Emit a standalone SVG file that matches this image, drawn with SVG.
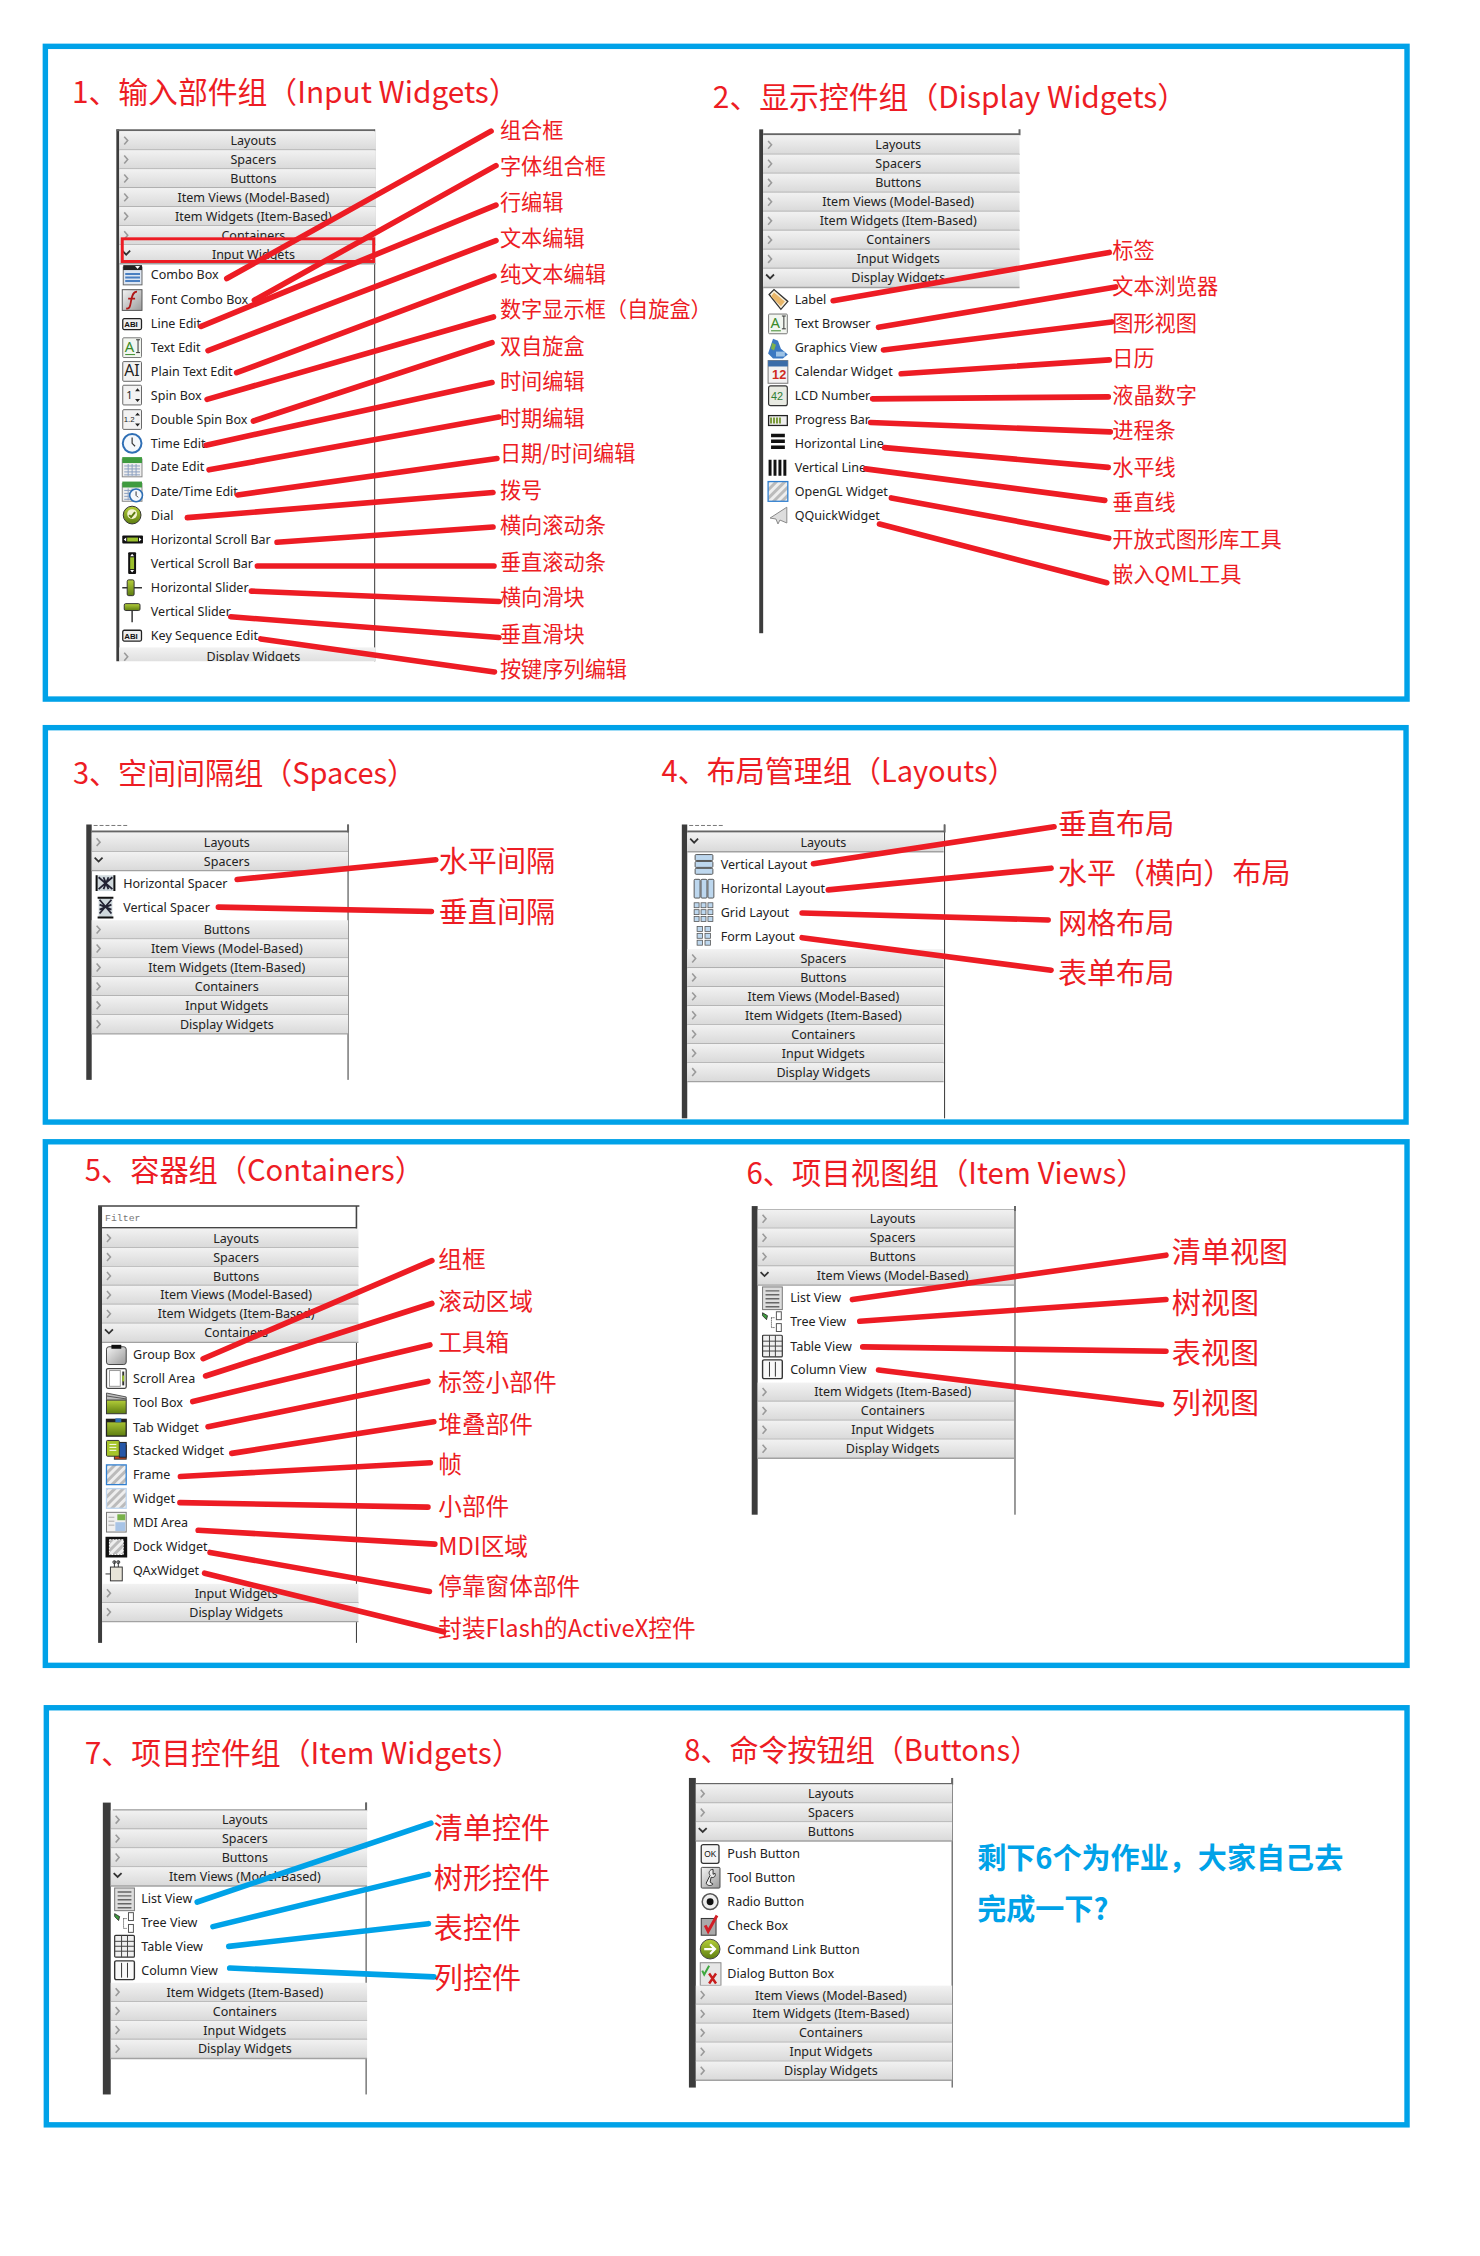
<svg xmlns="http://www.w3.org/2000/svg" width="1480" height="2256" viewBox="0 0 1480 2256">
<style>
text{font-family:"Noto Sans","Noto Sans CJK SC",sans-serif}
.f{fill:#fff;stroke:#00a2e8;stroke-width:5.500}
.t{font-family:"Noto Sans CJK SC",sans-serif;font-size:30px;fill:#ed1c24}
.l{font-family:"Noto Sans CJK SC",sans-serif;fill:#ed1c24;dominant-baseline:central}
.s{font-size:21.500px}.m{font-size:24px}.b{font-size:29.500px}
.h{font-size:12.700px;fill:#222;text-anchor:middle}
.i{font-size:12.700px;fill:#222}
.bar{fill:#3c3c3c}
.rl{stroke:#333;stroke-width:1;fill:none}
.top{stroke:#666;stroke-width:2;fill:none}
.c{fill:none;stroke-width:5.700;stroke-linecap:round}
.cr{stroke:#ed1c24}.cb{stroke:#00a2e8}
.n{font-family:"Liberation Sans",sans-serif}
</style>
<defs>
<linearGradient id="hg" x1="0" y1="0" x2="0" y2="1"><stop offset="0" stop-color="#f2f2f2"/><stop offset="1" stop-color="#d9d9d9"/></linearGradient>
<linearGradient id="gr" x1="0" y1="0" x2="1" y2="1"><stop offset="0" stop-color="#f4f4f4"/><stop offset="1" stop-color="#9a9a9a"/></linearGradient>
<linearGradient id="gg" x1="0" y1="0" x2="0" y2="1"><stop offset="0" stop-color="#b5cf3a"/><stop offset="1" stop-color="#5d7d10"/></linearGradient>
<pattern id="ha" width="6" height="6" patternUnits="userSpaceOnUse" patternTransform="rotate(45)"><rect width="6" height="6" fill="#eee"/><rect width="3" height="6" fill="#bbb"/></pattern>
<clipPath id="cp1"><rect x="-6" y="0" width="272" height="669.500"/></clipPath>
<g id="hb"><rect width="260" height="19.200" fill="url(#hg)"/><path d="M0 19.200H260" stroke="#a2a2a2" stroke-width="1.400"/><path d="M5 5.500l3.500 4-3.500 4" fill="none" stroke="#9a9a9a" stroke-width="1.600"/></g>
<g id="ho"><rect width="260" height="19.200" fill="url(#hg)"/><path d="M0 19.200H260" stroke="#a2a2a2" stroke-width="1.400"/><path d="M3 6l4 4 4-4" fill="none" stroke="#333" stroke-width="1.800"/></g>
<g id="i-combo"><rect x="2" y="3" width="19" height="18" fill="#dde6f2" stroke="#666"/><rect x="2" y="1" width="19" height="5" fill="#222"/><path d="M14 2h5l-2.500 3z" fill="#fff"/><path d="M4 10h15M4 13.500h15M4 17h15" stroke="#4a7fc1" stroke-width="2"/></g>
<g id="i-font"><rect x="1" y="1" width="20" height="21" fill="url(#gr)" stroke="#555"/><path d="M5 20c4 1 4-3 5-8s2-9 6-9M7 10h7" fill="none" stroke="#b01818" stroke-width="1.800"/></g>
<g id="i-line"><rect x="1.500" y="6" width="19" height="11" rx="1.500" fill="#eee" stroke="#222" stroke-width="1.300"/><text x="3" y="14.500" font-size="8" font-weight="700" fill="#111" class="n">ABI</text></g>
<g id="i-text"><rect x="1.500" y="1" width="19" height="20" rx="1" fill="#f2f6f0" stroke="#777"/><text x="3.500" y="15" font-size="15" fill="#3a8a2a" font-family="Liberation Serif">A</text><path d="M15 3h4M17 3v13M15 16h4" stroke="#333" fill="none"/><path d="M4 18h10" stroke="#3a8a2a"/></g>
<g id="i-plain"><rect x="1.500" y="1" width="19" height="20" rx="1" fill="#f2f2f2" stroke="#666"/><text x="3" y="16" font-size="16" fill="#222" font-family="Liberation Serif">AI</text></g>
<g id="i-spin"><rect x="1.500" y="1" width="19" height="20" rx="1" fill="#f2f2f2" stroke="#666"/><text x="5" y="15" font-size="11" fill="#222" font-family="Liberation Serif">1</text><path d="M14 7l2.500-3 2.500 3zM14 15l2.500 3 2.500-3z" fill="#222"/></g>
<g id="i-dspin"><rect x="1.500" y="1" width="19" height="20" rx="1" fill="#f2f2f2" stroke="#666"/><text x="2.500" y="14" font-size="8" fill="#222" class="n">1.2</text><path d="M14 7l2.500-3 2.500 3zM14 15l2.500 3 2.500-3z" fill="#222"/></g>
<g id="i-time"><circle cx="11" cy="11" r="9.500" fill="#f4f8fc" stroke="#2f6fb5" stroke-width="2"/><path d="M11 5v6l3 3" fill="none" stroke="#333" stroke-width="1.200"/></g>
<g id="i-date"><rect x="1" y="3" width="20" height="18" fill="#eee" stroke="#888"/><rect x="1" y="1" width="20" height="6" fill="#3f9b3f"/><path d="M3 10h16M3 13h16M3 16h16M3 19h16M7 8v12M11 8v12M15 8v12" stroke="#8ba0c0" stroke-width="1"/></g>
<g id="i-dt"><use href="#i-date"/><circle cx="15" cy="15" r="6.500" fill="#f4f8fc" stroke="#2f6fb5" stroke-width="1.600"/><path d="M15 11v4l2 2" fill="none" stroke="#333"/></g>
<g id="i-dial"><circle cx="11" cy="11" r="9" fill="url(#gg)" stroke="#333" stroke-width="1"/><circle cx="11" cy="10" r="5" fill="#f3f3d0"/><path d="M8 11l2 2 4-5" fill="none" stroke="#5d7d10" stroke-width="2"/></g>
<g id="i-hs"><rect x="1" y="7" width="21" height="8" rx="1" fill="#111"/><rect x="6" y="9" width="11" height="4" fill="#9bc02c"/><path d="M5 9v4l-2.500-2zM18 9v4l2.500-2z" fill="#fff"/></g>
<g id="i-vs"><rect x="7" y="0" width="8" height="22" rx="1" fill="#111"/><rect x="9" y="5" width="4" height="12" fill="#9bc02c"/><path d="M9 4h4l-2-2.500zM9 18h4l-2 2.500z" fill="#fff"/></g>
<g id="i-hsl"><path d="M1 11h20" stroke="#333" stroke-width="1.500"/><rect x="6" y="3" width="7" height="16" rx="1.500" fill="url(#gg)" stroke="#333"/></g>
<g id="i-vsl"><path d="M11 4v18" stroke="#333" stroke-width="1.500"/><rect x="3" y="3" width="16" height="7" rx="1.500" fill="url(#gg)" stroke="#333"/></g>
<g id="i-label"><path d="M2 6l5-5 14 12-7 8z" fill="#f8f0dc" stroke="#333" stroke-width="1.300"/><path d="M4 8l3-4 11 9-4 5z" fill="#e9b76a"/></g>
<g id="i-gfx"><path d="M6 2l5 2 3 8 7 6-5 4H6L1 17z" fill="#3b78c2"/><path d="M5 6l4 2-2 6-3-2z" fill="#7fb14a"/><path d="M9 15h9v5H9z" fill="#9ec3e6"/></g>
<g id="i-cal"><rect x="1" y="0" width="20" height="23" fill="#f2f2f2" stroke="#777"/><rect x="1" y="0" width="20" height="6" fill="#3a6ca8"/><text x="5" y="19" font-size="13" font-weight="700" fill="#d02a1e" class="n">12</text></g>
<g id="i-lcd"><rect x="1.500" y="1" width="19" height="20" rx="2" fill="#e8eae2" stroke="#333" stroke-width="1.200"/><text x="4" y="15" font-size="11" fill="#2e7d32" class="n">42</text></g>
<g id="i-prog"><rect x="1.500" y="7" width="19" height="10" fill="#eee" stroke="#222" stroke-width="1.300"/><path d="M4 9v6M7 9v6M10 9v6M13 9v6" stroke="#7a9a3a" stroke-width="2"/></g>
<g id="i-hl"><path d="M4 3h14M4 9h14M4 15h14" stroke="#111" stroke-width="3.500"/></g>
<g id="i-vl"><path d="M3 3v16M8 3v16M13 3v16M18 3v16" stroke="#111" stroke-width="3"/></g>
<g id="i-frame"><rect x="1" y="1" width="20" height="20" fill="url(#ha)" stroke="#2f7fd0" stroke-width="1.300"/></g>
<g id="i-wid"><rect x="1" y="1" width="20" height="20" fill="url(#ha)" stroke="#bcd4ee" stroke-width="1.300"/></g>
<g id="i-quick"><path d="M20 3L3 14l6 1 2 5 2-4 7 3z" fill="#ddd" stroke="#888"/></g>
<g id="i-hsp"><rect x="1" y="3" width="20" height="16" fill="#cfd8dc"/><path d="M2 3v16M20 3v16" stroke="#111" stroke-width="2"/><path d="M4 5l14 12M4 17L18 5M9 5l5 12M14 5L9 17" stroke="#223" stroke-width="1.800"/></g>
<g id="i-vsp"><rect x="4" y="1" width="14" height="20" fill="#cfd8dc"/><path d="M3 1h16M3 21h16" stroke="#111" stroke-width="2"/><path d="M5 3l12 14M5 17L17 3M5 8l12 5M5 13l12-5" stroke="#223" stroke-width="1.800"/></g>
<g id="i-vla"><g fill="#bdd7ee" stroke="#555"><rect x="2" y="1" width="18" height="6" rx="1"/><rect x="2" y="8" width="18" height="6" rx="1"/><rect x="2" y="15" width="18" height="6" rx="1"/></g></g>
<g id="i-hla"><g fill="#bdd7ee" stroke="#555"><rect x="1" y="2" width="6" height="19" rx="1"/><rect x="8" y="2" width="6" height="19" rx="1"/><rect x="15" y="2" width="6" height="19" rx="1"/></g></g>
<g id="i-gri"><g fill="#bdd7ee" stroke="#555" stroke-width=".800"><rect x="1" y="1" width="5" height="5"/><rect x="8" y="1" width="5" height="5"/><rect x="15" y="1" width="5" height="5"/><rect x="1" y="8" width="5" height="5"/><rect x="8" y="8" width="5" height="5"/><rect x="15" y="8" width="5" height="5"/><rect x="1" y="15" width="5" height="5"/><rect x="8" y="15" width="5" height="5"/><rect x="15" y="15" width="5" height="5"/></g></g>
<g id="i-for"><g fill="#bdd7ee" stroke="#555" stroke-width=".800"><rect x="4" y="1" width="5.500" height="5"/><rect x="12" y="1" width="5.500" height="5"/><rect x="4" y="8" width="5.500" height="5"/><rect x="12" y="8" width="5.500" height="5"/><rect x="4" y="15" width="5.500" height="5"/><rect x="12" y="15" width="5.500" height="5"/></g></g>
<g id="i-grp"><rect x="1" y="3" width="20" height="18" rx="2.500" fill="url(#gr)" stroke="#444"/><rect x="6" y="1" width="10" height="4" fill="#111"/></g>
<g id="i-scr"><rect x="1" y="1" width="20" height="20" rx="1.500" fill="#fff" stroke="#444" stroke-width="1.300"/><rect x="4" y="3" width="11" height="16" fill="#fff" stroke="#999"/><path d="M18 4v14" stroke="#333" stroke-width="2"/><path d="M18 8v6" stroke="#9bc02c" stroke-width="2"/></g>
<g id="i-tbx"><rect x="1" y="8" width="20" height="14" fill="url(#gg)" stroke="#333"/><path d="M1 1l20 4v3H1z" fill="#bbb" stroke="#555"/><path d="M1 4l20 3" stroke="#555"/></g>
<g id="i-tab"><rect x="1" y="3" width="20" height="17" fill="url(#gg)" stroke="#222" stroke-width="1.300"/><rect x="1" y="3" width="20" height="3" fill="#222"/><rect x="10" y="2" width="6" height="4" fill="#2f6fb5"/></g>
<g id="i-stk"><rect x="9" y="6" width="12" height="14" fill="#c8461e" stroke="#333"/><rect x="14" y="3" width="7" height="15" fill="#2657a8" stroke="#222"/><rect x="1" y="1" width="13" height="16" rx="1" fill="#a6c52a" stroke="#333"/><path d="M4 5h7M4 8h7M4 11h7" stroke="#fff"/></g>
<g id="i-mdi"><rect x="1" y="1" width="20" height="20" fill="#f0f0f0" stroke="#777"/><rect x="12" y="3" width="8" height="6" fill="#79b14a"/><rect x="10" y="11" width="10" height="9" fill="#a8c4e6"/><path d="M3 6h6M3 10h6M3 14h6" stroke="#aaa"/></g>
<g id="i-dck"><rect x="0" y="1" width="22" height="21" fill="#111"/><rect x="4" y="4" width="14" height="15" fill="url(#ha)" stroke="#fff" stroke-dasharray="2 1"/></g>
<g id="i-qax"><rect x="5" y="7" width="12" height="14" fill="#e8e4d8" stroke="#333"/><path d="M9 1v6M13 1v6M0 14h5" stroke="#333"/><circle cx="9" cy="2" r="1.500" fill="none" stroke="#333"/><circle cx="13" cy="2" r="1.500" fill="none" stroke="#333"/></g>
<g id="i-list"><rect x="1" y="0" width="20" height="23" fill="#ddd" stroke="#777"/><path d="M4 4h14M4 8h14M4 12h14M4 16h14M4 20h14" stroke="#666" stroke-width="1.500"/></g>
<g id="i-tree"><path d="M1 2l5 3-1 4-4-4z" fill="#3f9b3f" stroke="#222" stroke-width=".800"/><rect x="15" y="1" width="5" height="8" fill="#fff" stroke="#555"/><rect x="15" y="13" width="5" height="8" fill="#fff" stroke="#555"/><path d="M10 7v10M10 7h4M10 17h4" stroke="#333" stroke-dasharray="1 1"/></g>
<g id="i-tbl"><rect x="1" y="0" width="20" height="22" rx="1" fill="#f0f0f0" stroke="#333" stroke-width="1.200"/><path d="M1 6h20M1 11h20M1 16h20M8 0v22M14 0v22" stroke="#444"/></g>
<g id="i-col"><rect x="1" y="1" width="20" height="19" rx="1.500" fill="#f8f8f8" stroke="#333" stroke-width="1.400"/><path d="M8 3v15M14 3v15" stroke="#333"/></g>
<g id="i-push"><rect x="2" y="2" width="18" height="19" rx="2" fill="#f4f4f4" stroke="#333" stroke-width="1.300"/><text x="5" y="14.500" font-size="8.500" fill="#111" class="n">OK</text></g>
<g id="i-tool"><rect x="2" y="1" width="19" height="21" rx="1" fill="url(#gr)" stroke="#444"/><path d="M14 3c-4 0-5 4-3 6l-4 8c1 3 5 3 7 1l-3-2 1-5c3 1 5-1 4-4l-2 1z" fill="#eee" stroke="#333"/></g>
<g id="i-rad"><circle cx="11" cy="11" r="8" fill="#eee" stroke="#555" stroke-width="1.500"/><circle cx="11" cy="11" r="3.500" fill="#111"/></g>
<g id="i-chk"><rect x="2" y="4" width="15" height="17" fill="#aaa" stroke="#333"/><path d="M6 11l3 6 9-16" fill="none" stroke="#d21f26" stroke-width="3"/></g>
<g id="i-cmd"><circle cx="11" cy="11" r="10" fill="url(#gg)" stroke="#444"/><path d="M5 11h11M11 6l5 5-5 5" fill="none" stroke="#fff" stroke-width="2.200"/></g>
<g id="i-dlg"><rect x="1" y="0" width="21" height="23" fill="#e6e6e6" stroke="#888"/><path d="M3 8l2 4 5-9" fill="none" stroke="#3fa83f" stroke-width="2"/><path d="M10 11l7 10M17 11l-7 10" stroke="#c81e1e" stroke-width="2.500"/></g>
</defs>
<rect width="1480" height="2256" fill="#fff"/>
<g id="diagram" transform="scale(0.986)">
<g id="frames">
<rect class="f" x="46" y="47" width="1381" height="662"/>
<rect class="f" x="46" y="738" width="1380" height="400"/>
<rect class="f" x="46" y="1158" width="1381" height="531"/>
<rect class="f" x="47" y="1732" width="1380" height="423"/>
</g>
<g id="titles">
<text class="t" x="73" y="104.500" textLength="453" lengthAdjust="spacingAndGlyphs">1、输入部件组（Input Widgets）</text>
<text class="t" x="723" y="109.500" textLength="481" lengthAdjust="spacingAndGlyphs">2、显示控件组（Display Widgets）</text>
<text class="t" x="74" y="795" textLength="348" lengthAdjust="spacingAndGlyphs">3、空间间隔组（Spaces）</text>
<text class="t" x="671" y="793.500" textLength="360" lengthAdjust="spacingAndGlyphs">4、布局管理组（Layouts）</text>
<text class="t" x="86" y="1197.500" textLength="344" lengthAdjust="spacingAndGlyphs">5、容器组（Containers）</text>
<text class="t" x="757" y="1200.500" textLength="405" lengthAdjust="spacingAndGlyphs">6、项目视图组（Item Views）</text>
<text class="t" x="86" y="1789.500" textLength="443" lengthAdjust="spacingAndGlyphs">7、项目控件组（Item Widgets）</text>
<text class="t" x="694" y="1785.500" textLength="360" lengthAdjust="spacingAndGlyphs">8、命令按钮组（Buttons）</text>
</g>
<g id="panel-1" transform="translate(121,1.200)" clip-path="url(#cp1)">
<rect class="bar" x="-3" y="130" width="3" height="541"/><path class="rl" d="M259 130V671"/><path class="top" d="M-3 131H259"/>
<g transform="translate(0,141.500)"><use href="#hb" y="-9.600"/><text class="h" x="136" y="4.500">Layouts</text></g>
<g transform="translate(0,160.700)"><use href="#hb" y="-9.600"/><text class="h" x="136" y="4.500">Spacers</text></g>
<g transform="translate(0,179.900)"><use href="#hb" y="-9.600"/><text class="h" x="136" y="4.500">Buttons</text></g>
<g transform="translate(0,199.100)"><use href="#hb" y="-9.600"/><text class="h" x="136" y="4.500">Item Views (Model-Based)</text></g>
<g transform="translate(0,218.300)"><use href="#hb" y="-9.600"/><text class="h" x="136" y="4.500">Item Widgets (Item-Based)</text></g>
<g transform="translate(0,237.500)"><use href="#hb" y="-9.600"/><text class="h" x="136" y="4.500">Containers</text></g>
<g transform="translate(0,256.700)"><use href="#ho" y="-9.600"/><text class="h" x="136" y="4.500">Input Widgets</text></g>
<g transform="translate(0,277.700)"><use href="#i-combo" x="2" y="-11"/><text class="i" x="32" y="4.500">Combo Box</text></g>
<g transform="translate(0,302.600)"><use href="#i-font" x="2" y="-11"/><text class="i" x="32" y="4.500">Font Combo Box</text></g>
<g transform="translate(0,327)"><use href="#i-line" x="2" y="-11"/><text class="i" x="32" y="4.500">Line Edit</text></g>
<g transform="translate(0,351.400)"><use href="#i-text" x="2" y="-11"/><text class="i" x="32" y="4.500">Text Edit</text></g>
<g transform="translate(0,375.500)"><use href="#i-plain" x="2" y="-11"/><text class="i" x="32" y="4.500">Plain Text Edit</text></g>
<g transform="translate(0,399.500)"><use href="#i-spin" x="2" y="-11"/><text class="i" x="32" y="4.500">Spin Box</text></g>
<g transform="translate(0,424.300)"><use href="#i-dspin" x="2" y="-11"/><text class="i" x="32" y="4.500">Double Spin Box</text></g>
<g transform="translate(0,448.400)"><use href="#i-time" x="2" y="-11"/><text class="i" x="32" y="4.500">Time Edit</text></g>
<g transform="translate(0,472.400)"><use href="#i-date" x="2" y="-11"/><text class="i" x="32" y="4.500">Date Edit</text></g>
<g transform="translate(0,497.200)"><use href="#i-dt" x="2" y="-11"/><text class="i" x="32" y="4.500">Date/Time Edit</text></g>
<g transform="translate(0,521.200)"><use href="#i-dial" x="2" y="-11"/><text class="i" x="32" y="4.500">Dial</text></g>
<g transform="translate(0,546)"><use href="#i-hs" x="2" y="-11"/><text class="i" x="32" y="4.500">Horizontal Scroll Bar</text></g>
<g transform="translate(0,570)"><use href="#i-vs" x="2" y="-11"/><text class="i" x="32" y="4.500">Vertical Scroll Bar</text></g>
<g transform="translate(0,594.900)"><use href="#i-hsl" x="2" y="-11"/><text class="i" x="32" y="4.500">Horizontal Slider</text></g>
<g transform="translate(0,619)"><use href="#i-vsl" x="2" y="-11"/><text class="i" x="32" y="4.500">Vertical Slider</text></g>
<g transform="translate(0,643)"><use href="#i-line" x="2" y="-11"/><text class="i" x="32" y="4.500">Key Sequence Edit</text></g>
<g transform="translate(0,665)"><use href="#hb" y="-9.600"/><text class="h" x="136" y="4.500">Display Widgets</text></g>
<rect x="3" y="241" width="255" height="23" fill="none" stroke="#ed1c24" stroke-width="3"/>
</g>
<g id="panel-2" transform="translate(774,1.200)">
<rect class="bar" x="-4" y="130" width="4" height="511"/><path class="top" d="M0 135H260V130"/>
<g transform="translate(0,145.800)"><use href="#hb" y="-9.600"/><text class="h" x="137" y="4.500">Layouts</text></g>
<g transform="translate(0,165)"><use href="#hb" y="-9.600"/><text class="h" x="137" y="4.500">Spacers</text></g>
<g transform="translate(0,184.300)"><use href="#hb" y="-9.600"/><text class="h" x="137" y="4.500">Buttons</text></g>
<g transform="translate(0,203.600)"><use href="#hb" y="-9.600"/><text class="h" x="137" y="4.500">Item Views (Model-Based)</text></g>
<g transform="translate(0,222.900)"><use href="#hb" y="-9.600"/><text class="h" x="137" y="4.500">Item Widgets (Item-Based)</text></g>
<g transform="translate(0,242.200)"><use href="#hb" y="-9.600"/><text class="h" x="137" y="4.500">Containers</text></g>
<g transform="translate(0,261.500)"><use href="#hb" y="-9.600"/><text class="h" x="137" y="4.500">Input Widgets</text></g>
<g transform="translate(0,280.800)"><use href="#ho" y="-9.600"/><text class="h" x="137" y="4.500">Display Widgets</text></g>
<g transform="translate(0,302.500)"><use href="#i-label" x="4" y="-11"/><text class="i" x="32" y="4.500">Label</text></g>
<g transform="translate(0,327.300)"><use href="#i-text" x="4" y="-11"/><text class="i" x="32" y="4.500">Text Browser</text></g>
<g transform="translate(0,351.400)"><use href="#i-gfx" x="4" y="-11"/><text class="i" x="32" y="4.500">Graphics View</text></g>
<g transform="translate(0,375.500)"><use href="#i-cal" x="4" y="-11"/><text class="i" x="32" y="4.500">Calendar Widget</text></g>
<g transform="translate(0,400.200)"><use href="#i-lcd" x="4" y="-11"/><text class="i" x="32" y="4.500">LCD Number</text></g>
<g transform="translate(0,424.300)"><use href="#i-prog" x="4" y="-11"/><text class="i" x="32" y="4.500">Progress Bar</text></g>
<g transform="translate(0,448.400)"><use href="#i-hl" x="4" y="-11"/><text class="i" x="32" y="4.500">Horizontal Line</text></g>
<g transform="translate(0,473.200)"><use href="#i-vl" x="4" y="-11"/><text class="i" x="32" y="4.500">Vertical Line</text></g>
<g transform="translate(0,497.200)"><use href="#i-frame" x="4" y="-11"/><text class="i" x="32" y="4.500">OpenGL Widget</text></g>
<g transform="translate(0,521.200)"><use href="#i-quick" x="4" y="-11"/><text class="i" x="32" y="4.500">QQuickWidget</text></g>
</g>
<g id="panel-3" transform="translate(93,1.200)">
<rect class="bar" x="-5.500" y="835" width="5.500" height="259"/><path class="rl" d="M260 835V1094"/><path class="top" d="M0 842H260V835"/><path d="M2 836H37" stroke="#777" stroke-dasharray="4 2" fill="none"/>
<g transform="translate(0,853)"><use href="#hb" y="-9.600"/><text class="h" x="137" y="4.500">Layouts</text></g>
<g transform="translate(0,872.200)"><use href="#ho" y="-9.600"/><text class="h" x="137" y="4.500">Spacers</text></g>
<g transform="translate(0,894.500)"><use href="#i-hsp" x="3" y="-11"/><text class="i" x="32" y="4.500">Horizontal Spacer</text></g>
<g transform="translate(0,919.300)"><use href="#i-vsp" x="3" y="-11"/><text class="i" x="32" y="4.500">Vertical Spacer</text></g>
<g transform="translate(0,941.700)"><use href="#hb" y="-9.600"/><text class="h" x="137" y="4.500">Buttons</text></g>
<g transform="translate(0,960.900)"><use href="#hb" y="-9.600"/><text class="h" x="137" y="4.500">Item Views (Model-Based)</text></g>
<g transform="translate(0,980.100)"><use href="#hb" y="-9.600"/><text class="h" x="137" y="4.500">Item Widgets (Item-Based)</text></g>
<g transform="translate(0,999.300)"><use href="#hb" y="-9.600"/><text class="h" x="137" y="4.500">Containers</text></g>
<g transform="translate(0,1018.500)"><use href="#hb" y="-9.600"/><text class="h" x="137" y="4.500">Input Widgets</text></g>
<g transform="translate(0,1037.700)"><use href="#hb" y="-9.600"/><text class="h" x="137" y="4.500">Display Widgets</text></g>
</g>
<g id="panel-4" transform="translate(697,1.200)">
<rect class="bar" x="-5.500" y="835" width="5.500" height="298"/><path class="rl" d="M261 835V1133"/><path class="top" d="M0 842H261V835"/><path d="M2 836H37" stroke="#777" stroke-dasharray="4 2" fill="none"/>
<g transform="translate(0,853)"><use href="#ho" y="-9.600"/><text class="h" x="138" y="4.500">Layouts</text></g>
<g transform="translate(0,875.500)"><use href="#i-vla" x="6" y="-11"/><text class="i" x="34" y="4.500">Vertical Layout</text></g>
<g transform="translate(0,899.600)"><use href="#i-hla" x="6" y="-11"/><text class="i" x="34" y="4.500">Horizontal Layout</text></g>
<g transform="translate(0,924.400)"><use href="#i-gri" x="6" y="-11"/><text class="i" x="34" y="4.500">Grid Layout</text></g>
<g transform="translate(0,948.400)"><use href="#i-for" x="6" y="-11"/><text class="i" x="34" y="4.500">Form Layout</text></g>
<g transform="translate(0,971)"><use href="#hb" y="-9.600"/><text class="h" x="138" y="4.500">Spacers</text></g>
<g transform="translate(0,990.200)"><use href="#hb" y="-9.600"/><text class="h" x="138" y="4.500">Buttons</text></g>
<g transform="translate(0,1009.400)"><use href="#hb" y="-9.600"/><text class="h" x="138" y="4.500">Item Views (Model-Based)</text></g>
<g transform="translate(0,1028.600)"><use href="#hb" y="-9.600"/><text class="h" x="138" y="4.500">Item Widgets (Item-Based)</text></g>
<g transform="translate(0,1047.800)"><use href="#hb" y="-9.600"/><text class="h" x="138" y="4.500">Containers</text></g>
<g transform="translate(0,1067)"><use href="#hb" y="-9.600"/><text class="h" x="138" y="4.500">Input Widgets</text></g>
<g transform="translate(0,1086.200)"><use href="#hb" y="-9.600"/><text class="h" x="138" y="4.500">Display Widgets</text></g>
</g>
<g id="panel-5" transform="translate(103.500,1.200)">
<rect class="bar" x="-4" y="1222" width="4" height="443"/><path class="rl" d="M258 1245V1665"/><path d="M-4 1222H261M0 1244H258M258 1222V1245" stroke="#444" stroke-width="1.600" fill="none"/>
<text x="3" y="1237" font-size="10" fill="#777" style="font-family:'Liberation Mono',monospace">Filter</text>
<g transform="translate(0,1254.600)"><use href="#hb" y="-9.600"/><text class="h" x="136" y="4.500">Layouts</text></g>
<g transform="translate(0,1273.800)"><use href="#hb" y="-9.600"/><text class="h" x="136" y="4.500">Spacers</text></g>
<g transform="translate(0,1293)"><use href="#hb" y="-9.600"/><text class="h" x="136" y="4.500">Buttons</text></g>
<g transform="translate(0,1312.200)"><use href="#hb" y="-9.600"/><text class="h" x="136" y="4.500">Item Views (Model-Based)</text></g>
<g transform="translate(0,1331.400)"><use href="#hb" y="-9.600"/><text class="h" x="136" y="4.500">Item Widgets (Item-Based)</text></g>
<g transform="translate(0,1350.600)"><use href="#ho" y="-9.600"/><text class="h" x="136" y="4.500">Containers</text></g>
<g transform="translate(0,1372.700)"><use href="#i-grp" x="3.500" y="-11"/><text class="i" x="31.500" y="4.500">Group Box</text></g>
<g transform="translate(0,1396.800)"><use href="#i-scr" x="3.500" y="-11"/><text class="i" x="31.500" y="4.500">Scroll Area</text></g>
<g transform="translate(0,1421.600)"><use href="#i-tbx" x="3.500" y="-11"/><text class="i" x="31.500" y="4.500">Tool Box</text></g>
<g transform="translate(0,1446.300)"><use href="#i-tab" x="3.500" y="-11"/><text class="i" x="31.500" y="4.500">Tab Widget</text></g>
<g transform="translate(0,1469.700)"><use href="#i-stk" x="3.500" y="-11"/><text class="i" x="31.500" y="4.500">Stacked Widget</text></g>
<g transform="translate(0,1494.500)"><use href="#i-frame" x="3.500" y="-11"/><text class="i" x="31.500" y="4.500">Frame</text></g>
<g transform="translate(0,1518.500)"><use href="#i-wid" x="3.500" y="-11"/><text class="i" x="31.500" y="4.500">Widget</text></g>
<g transform="translate(0,1542.600)"><use href="#i-mdi" x="3.500" y="-11"/><text class="i" x="31.500" y="4.500">MDI Area</text></g>
<g transform="translate(0,1567.400)"><use href="#i-dck" x="3.500" y="-11"/><text class="i" x="31.500" y="4.500">Dock Widget</text></g>
<g transform="translate(0,1592.100)"><use href="#i-qax" x="3.500" y="-11"/><text class="i" x="31.500" y="4.500">QAxWidget</text></g>
<g transform="translate(0,1614.700)"><use href="#hb" y="-9.600"/><text class="h" x="136" y="4.500">Input Widgets</text></g>
<g transform="translate(0,1633.900)"><use href="#hb" y="-9.600"/><text class="h" x="136" y="4.500">Display Widgets</text></g>
</g>
<g id="panel-6" transform="translate(768.400,1.200)">
<rect class="bar" x="-6" y="1222" width="6" height="313"/><path class="rl" d="M261 1222V1535"/><path class="top" d="M0 1226H261V1222"/>
<g transform="translate(0,1235)"><use href="#hb" y="-9.600"/><text class="h" x="137" y="4.500">Layouts</text></g>
<g transform="translate(0,1254.200)"><use href="#hb" y="-9.600"/><text class="h" x="137" y="4.500">Spacers</text></g>
<g transform="translate(0,1273.400)"><use href="#hb" y="-9.600"/><text class="h" x="137" y="4.500">Buttons</text></g>
<g transform="translate(0,1292.600)"><use href="#ho" y="-9.600"/><text class="h" x="137" y="4.500">Item Views (Model-Based)</text></g>
<g transform="translate(0,1315)"><use href="#i-list" x="4" y="-11"/><text class="i" x="33" y="4.500">List View</text></g>
<g transform="translate(0,1339.200)"><use href="#i-tree" x="4" y="-11"/><text class="i" x="33" y="4.500">Tree View</text></g>
<g transform="translate(0,1364)"><use href="#i-tbl" x="4" y="-11"/><text class="i" x="33" y="4.500">Table View</text></g>
<g transform="translate(0,1388)"><use href="#i-col" x="4" y="-11"/><text class="i" x="33" y="4.500">Column View</text></g>
<g transform="translate(0,1410.600)"><use href="#hb" y="-9.600"/><text class="h" x="137" y="4.500">Item Widgets (Item-Based)</text></g>
<g transform="translate(0,1429.800)"><use href="#hb" y="-9.600"/><text class="h" x="137" y="4.500">Containers</text></g>
<g transform="translate(0,1449)"><use href="#hb" y="-9.600"/><text class="h" x="137" y="4.500">Input Widgets</text></g>
<g transform="translate(0,1468.200)"><use href="#hb" y="-9.600"/><text class="h" x="137" y="4.500">Display Widgets</text></g>
</g>
<g id="panel-7" transform="translate(112.300,1.200)">
<rect class="bar" x="-8" y="1827" width="8" height="296"/><path class="rl" d="M259 1827V2123"/><path class="top" d="M2 1835H259V1827"/>
<g transform="translate(0,1844.400)"><use href="#hb" y="-9.600"/><text class="h" x="136" y="4.500">Layouts</text></g>
<g transform="translate(0,1863.600)"><use href="#hb" y="-9.600"/><text class="h" x="136" y="4.500">Spacers</text></g>
<g transform="translate(0,1882.800)"><use href="#hb" y="-9.600"/><text class="h" x="136" y="4.500">Buttons</text></g>
<g transform="translate(0,1902)"><use href="#ho" y="-9.600"/><text class="h" x="136" y="4.500">Item Views (Model-Based)</text></g>
<g transform="translate(0,1924.600)"><use href="#i-list" x="3" y="-11"/><text class="i" x="31" y="4.500">List View</text></g>
<g transform="translate(0,1948.600)"><use href="#i-tree" x="3" y="-11"/><text class="i" x="31" y="4.500">Tree View</text></g>
<g transform="translate(0,1972.700)"><use href="#i-tbl" x="3" y="-11"/><text class="i" x="31" y="4.500">Table View</text></g>
<g transform="translate(0,1997.500)"><use href="#i-col" x="3" y="-11"/><text class="i" x="31" y="4.500">Column View</text></g>
<g transform="translate(0,2019.300)"><use href="#hb" y="-9.600"/><text class="h" x="136" y="4.500">Item Widgets (Item-Based)</text></g>
<g transform="translate(0,2038.500)"><use href="#hb" y="-9.600"/><text class="h" x="136" y="4.500">Containers</text></g>
<g transform="translate(0,2057.700)"><use href="#hb" y="-9.600"/><text class="h" x="136" y="4.500">Input Widgets</text></g>
<g transform="translate(0,2076.900)"><use href="#hb" y="-9.600"/><text class="h" x="136" y="4.500">Display Widgets</text></g>
</g>
<g id="panel-8" transform="translate(705.700,1.200)">
<rect class="bar" x="-7" y="1802" width="7" height="314"/><path class="rl" d="M260 1802V2116"/><path class="top" d="M0 1808H260V1802"/>
<g transform="translate(0,1818)"><use href="#hb" y="-9.600"/><text class="h" x="137" y="4.500">Layouts</text></g>
<g transform="translate(0,1837.200)"><use href="#hb" y="-9.600"/><text class="h" x="137" y="4.500">Spacers</text></g>
<g transform="translate(0,1856.400)"><use href="#ho" y="-9.600"/><text class="h" x="137" y="4.500">Buttons</text></g>
<g transform="translate(0,1878.600)"><use href="#i-push" x="3.500" y="-11"/><text class="i" x="32" y="4.500">Push Button</text></g>
<g transform="translate(0,1902.700)"><use href="#i-tool" x="3.500" y="-11"/><text class="i" x="32" y="4.500">Tool Button</text></g>
<g transform="translate(0,1927.500)"><use href="#i-rad" x="3.500" y="-11"/><text class="i" x="32" y="4.500">Radio Button</text></g>
<g transform="translate(0,1951.500)"><use href="#i-chk" x="3.500" y="-11"/><text class="i" x="32" y="4.500">Check Box</text></g>
<g transform="translate(0,1975.600)"><use href="#i-cmd" x="3.500" y="-11"/><text class="i" x="32" y="4.500">Command Link Button</text></g>
<g transform="translate(0,2000.400)"><use href="#i-dlg" x="3.500" y="-11"/><text class="i" x="32" y="4.500">Dialog Button Box</text></g>
<g transform="translate(0,2022.200)"><use href="#hb" y="-9.600"/><text class="h" x="137" y="4.500">Item Views (Model-Based)</text></g>
<g transform="translate(0,2041.400)"><use href="#hb" y="-9.600"/><text class="h" x="137" y="4.500">Item Widgets (Item-Based)</text></g>
<g transform="translate(0,2060.600)"><use href="#hb" y="-9.600"/><text class="h" x="137" y="4.500">Containers</text></g>
<g transform="translate(0,2079.800)"><use href="#hb" y="-9.600"/><text class="h" x="137" y="4.500">Input Widgets</text></g>
<g transform="translate(0,2099)"><use href="#hb" y="-9.600"/><text class="h" x="137" y="4.500">Display Widgets</text></g>
</g>
<g id="connectors" class="c">
<g class="cr">
<path d="M230 282.500L498 133"/><path d="M258 304.500L503 168"/><path d="M204 331L503 208"/><path d="M211 355.500L503 244"/><path d="M240 378L501 280"/><path d="M210 405L500.500 321.500"/><path d="M257 427L499 347.500"/><path d="M209 451.500L499 388"/><path d="M212 476.500L506 423"/><path d="M241 502L504 465"/><path d="M190 525L500 499.500"/><path d="M281 550L500 534.500"/><path d="M261 574L501 574"/><path d="M255 599.500L506 610"/><path d="M234 625.500L506 646.500"/><path d="M264.500 648L501.500 681.500"/>
<path d="M845 305L1125 256"/><path d="M891 332L1131.500 291"/><path d="M896 355L1127.500 326.500"/><path d="M914 379L1125 365"/><path d="M885 404.500L1124 402.500"/><path d="M883 428.500L1126 438"/><path d="M897 454L1124 474"/><path d="M878 475.500L1120.500 507.500"/><path d="M904 505L1124.500 546"/><path d="M892 531.500L1122.500 591"/>
<path d="M240.500 892L442 872"/><path d="M221.500 920L437.500 924.500"/>
<path d="M825 876L1069 838.500"/><path d="M840 902.500L1066 880.500"/><path d="M813.500 926L1063 933"/><path d="M813.500 951L1066 984"/>
<path d="M206 1378L438 1278.500"/><path d="M208.500 1395.500L438 1322"/><path d="M195.500 1421.500L436 1364"/><path d="M211 1447L434 1401"/><path d="M235 1474L440 1442"/><path d="M183 1497.500L436.500 1483.500"/><path d="M182.500 1524L434 1528.500"/><path d="M201 1552L441 1566"/><path d="M213 1574.500L435.500 1614"/><path d="M207.500 1595.500L450 1655"/>
<path d="M864.500 1318L1182.500 1273"/><path d="M872 1340L1182.500 1318"/><path d="M875 1366L1182.500 1370.500"/><path d="M891 1389.500L1178 1424.500"/>
</g>
<g class="cb">
<path d="M200 1929L437 1849"/><path d="M216 1954L434.500 1901"/><path d="M232 1974L434.500 1951"/><path d="M233 1996L440 2005"/>
</g>
</g>
<g id="labels-1" transform="translate(0,-0.800)">
<g id="n1-1"><text class="l s" x="507" y="131">组合框</text></g>
<g id="n1-2"><text class="l s" x="507" y="168">字体组合框</text></g>
<g id="n1-3"><text class="l s" x="507" y="204">行编辑</text></g>
<g id="n1-4"><text class="l s" x="507" y="240.500">文本编辑</text></g>
<g id="n1-5"><text class="l s" x="507" y="277">纯文本编辑</text></g>
<g id="n1-6"><text class="l s" x="507" y="313">数字显示框（自旋盒）</text></g>
<g id="n1-7"><text class="l s" x="507" y="350">双自旋盒</text></g>
<g id="n1-8"><text class="l s" x="507" y="386">时间编辑</text></g>
<g id="n1-9"><text class="l s" x="507" y="423">时期编辑</text></g>
<g id="n1-10"><text class="l s" x="507" y="459">日期/时间编辑</text></g>
<g id="n1-11"><text class="l s" x="507" y="496">拨号</text></g>
<g id="n1-12"><text class="l s" x="507" y="532">横向滚动条</text></g>
<g id="n1-13"><text class="l s" x="507" y="569">垂直滚动条</text></g>
<g id="n1-14"><text class="l s" x="507" y="605">横向滑块</text></g>
<g id="n1-15"><text class="l s" x="507" y="642">垂直滑块</text></g>
<g id="n1-16"><text class="l s" x="507" y="678">按键序列编辑</text></g>
</g>
<g id="labels-2">
<g id="n2-1"><text class="l s" x="1128" y="252">标签</text></g>
<g id="n2-2"><text class="l s" x="1128" y="289">文本浏览器</text></g>
<g id="n2-3"><text class="l s" x="1128" y="326">图形视图</text></g>
<g id="n2-4"><text class="l s" x="1128" y="362">日历</text></g>
<g id="n2-5"><text class="l s" x="1128" y="399">液晶数字</text></g>
<g id="n2-6"><text class="l s" x="1128" y="435">进程条</text></g>
<g id="n2-7"><text class="l s" x="1128" y="472">水平线</text></g>
<g id="n2-8"><text class="l s" x="1128" y="508">垂直线</text></g>
<g id="n2-9"><text class="l s" x="1128" y="545">开放式图形库工具</text></g>
<g id="n2-10"><text class="l s" x="1128" y="581">嵌入QML工具</text></g>
</g>
<g id="labels-3">
<g id="n3-1"><text class="l b" x="445" y="871.500">水平间隔</text></g>
<g id="n3-2"><text class="l b" x="445" y="923">垂直间隔</text></g>
</g>
<g id="labels-4">
<g id="n4-1"><text class="l b" x="1073" y="833.500">垂直布局</text></g>
<g id="n4-2"><text class="l b" x="1073" y="883">水平（横向）布局</text></g>
<g id="n4-3"><text class="l b" x="1073" y="934">网格布局</text></g>
<g id="n4-4"><text class="l b" x="1073" y="985">表单布局</text></g>
</g>
<g id="labels-5">
<g id="n5-1"><text class="l m" x="444.500" y="1276">组框</text></g>
<g id="n5-2"><text class="l m" x="444.500" y="1318">滚动区域</text></g>
<g id="n5-3"><text class="l m" x="444.500" y="1360">工具箱</text></g>
<g id="n5-4"><text class="l m" x="444.500" y="1401">标签小部件</text></g>
<g id="n5-5"><text class="l m" x="444.500" y="1443">堆叠部件</text></g>
<g id="n5-6"><text class="l m" x="444.500" y="1484">帧</text></g>
<g id="n5-7"><text class="l m" x="444.500" y="1526">小部件</text></g>
<g id="n5-8"><text class="l m" x="444.500" y="1567">MDI区域</text></g>
<g id="n5-9"><text class="l m" x="444.500" y="1608">停靠窗体部件</text></g>
<g id="n5-10"><text class="l m" x="444.500" y="1650">封装Flash的ActiveX控件</text></g>
</g>
<g id="labels-6">
<g id="n6-1"><text class="l b" x="1188.500" y="1268">清单视图</text></g>
<g id="n6-2"><text class="l b" x="1188.500" y="1319">树视图</text></g>
<g id="n6-3"><text class="l b" x="1188.500" y="1370">表视图</text></g>
<g id="n6-4"><text class="l b" x="1188.500" y="1421">列视图</text></g>
</g>
<g id="labels-7">
<g id="n7-1"><text class="l b" x="440" y="1851.500">清单控件</text></g>
<g id="n7-2"><text class="l b" x="440" y="1903">树形控件</text></g>
<g id="n7-3"><text class="l b" x="440" y="1953.500">表控件</text></g>
<g id="n7-4"><text class="l b" x="440" y="2004">列控件</text></g>
</g>
<g id="note">
<text x="991" y="1882.500" style="font-family:'Noto Sans CJK SC',sans-serif;font-size:29.500px;font-weight:700;fill:#00a2e8;dominant-baseline:central">剩下6个为作业，大家自己去</text>
<text x="991" y="1934" style="font-family:'Noto Sans CJK SC',sans-serif;font-size:29.500px;font-weight:700;fill:#00a2e8;dominant-baseline:central">完成一下?</text>
</g>
</g>
</svg>
